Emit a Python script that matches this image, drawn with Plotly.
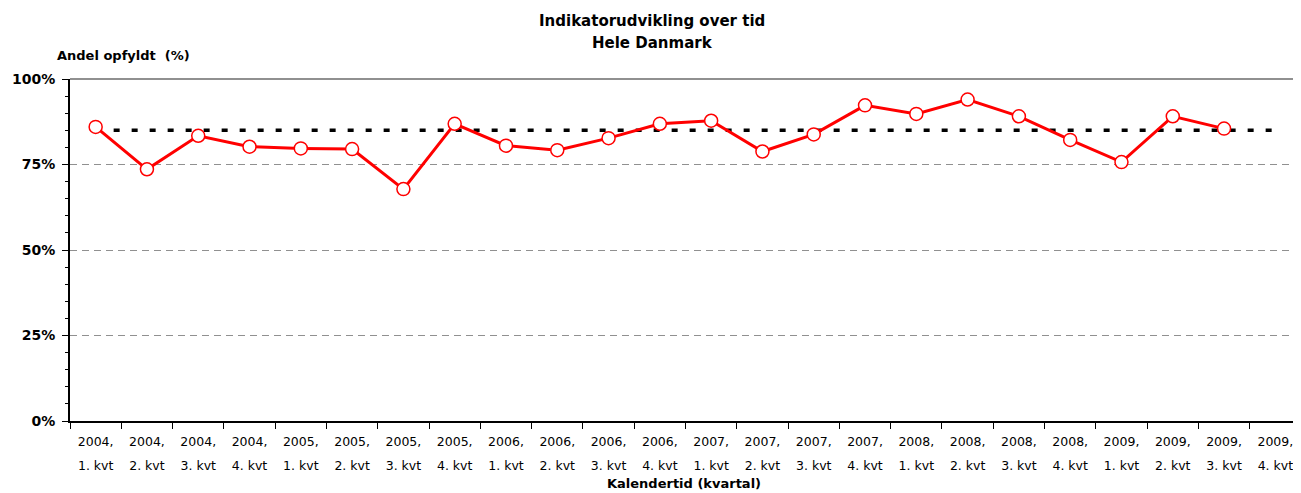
import plotly.graph_objects as go

years_line = ["2004,", "2004,", "2004,", "2004,", "2005,", "2005,", "2005,", "2005,",
              "2006,", "2006,", "2006,", "2006,", "2007,", "2007,", "2007,", "2007,",
              "2008,", "2008,", "2008,", "2008,", "2009,", "2009,", "2009,", "2009,"]
quarter_line = ["1. kvt", "2. kvt", "3. kvt", "4. kvt"] * 6
categories = [f"{y} {q}" for y, q in zip(years_line, quarter_line)]

andel = [86.0, 73.6, 83.4, 80.2, 79.7, 79.5, 67.8, 86.9,
         80.5, 79.2, 82.7, 86.9, 87.8, 78.8, 83.8, 92.3,
         89.8, 94.0, 89.1, 82.2, 75.7, 89.1, 85.5, None]
target = [85] * 24

y_ticks = [0, 25, 50, 75, 100]
y_ticktext = ["0%", "25%", "50%", "75%", "100%"]

FONT = "DejaVu Sans"

fig = go.Figure()
fig.add_trace(go.Scatter(
    x=categories, y=target, mode="lines",
    line=dict(color="black", width=3.5, dash="6px,12px"),
    showlegend=False, hoverinfo="skip"))
fig.add_trace(go.Scatter(
    x=categories, y=andel, mode="lines+markers",
    line=dict(color="#ff0000", width=3),
    marker=dict(size=13, color="white", line=dict(color="#ff0000", width=1.5)),
    showlegend=False))
fig.add_trace(go.Scatter(
    x=categories, y=[None] * 24, xaxis="x2", mode="lines",
    showlegend=False, hoverinfo="skip"))

# page body has an 8px margin, so the figure is sized to fit the window
fig.update_layout(
    width=1293, height=485,
    margin=dict(l=62, r=0, t=71, b=72),
    paper_bgcolor="white", plot_bgcolor="white",
    font=dict(family=FONT, color="black"),
    xaxis=dict(
        type="category", categoryorder="array", categoryarray=categories,
        range=[-0.5, 23.5],
        tickmode="array", tickvals=categories, ticktext=years_line,
        tickson="boundaries", ticks="outside", ticklen=6, tickwidth=1, tickcolor="black",
        showline=True, linecolor="black", linewidth=2,
        showgrid=False, zeroline=False,
        tickfont=dict(family=FONT, size=12.5, color="black"),
        ticklabelstandoff=8,
    ),
    xaxis2=dict(
        type="category", categoryorder="array", categoryarray=categories,
        overlaying="x", matches="x", anchor="y", side="bottom",
        range=[-0.5, 23.5],
        tickmode="array", tickvals=categories, ticktext=quarter_line,
        ticks="", showline=False, showgrid=False, zeroline=False,
        tickfont=dict(family=FONT, size=12.5, color="black"),
        ticklabelstandoff=35,
    ),
    yaxis=dict(
        range=[0, 100], tickmode="array", tickvals=y_ticks, ticktext=y_ticktext,
        ticks="outside", ticklen=6, tickwidth=1, tickcolor="black",
        showline=True, linecolor="black", linewidth=2,
        showgrid=True, gridcolor="#909090", gridwidth=1, griddash="7px,5px",
        zeroline=False,
        tickfont=dict(family=FONT, size=14, color="black", weight="bold"),
        ticklabelstandoff=4,
        minor=dict(tickmode="linear", tick0=0, dtick=5, ticks="outside",
                   ticklen=3, tickcolor="black", showgrid=False),
    ),
    shapes=[dict(type="line", xref="paper", yref="paper", x0=0, x1=1, y0=1, y1=1,
                 line=dict(color="#909090", width=2), layer="below")],
    annotations=[
        dict(text="<b>Indikatorudvikling over tid</b>", xref="paper", yref="paper",
             x=0.4728, y=1.1696, xanchor="center", yanchor="middle", showarrow=False,
             font=dict(family=FONT, size=15, color="black")),
        dict(text="<b>Hele Danmark</b>", xref="paper", yref="paper",
             x=0.4728, y=1.105, xanchor="center", yanchor="middle", showarrow=False,
             font=dict(family=FONT, size=15, color="black")),
        dict(text="<b>Andel opfyldt  (%)</b>", xref="paper", yref="paper",
             x=-0.012, y=1.070, xanchor="left", yanchor="middle", showarrow=False,
             font=dict(family=FONT, size=13, color="black")),
        dict(text="<b>Kalendertid (kvartal)</b>", xref="paper", yref="paper",
             x=0.4988, y=-0.1813, xanchor="center", yanchor="middle", showarrow=False,
             font=dict(family=FONT, size=13, color="black")),
    ],
)

fig.write_html("out.html")
